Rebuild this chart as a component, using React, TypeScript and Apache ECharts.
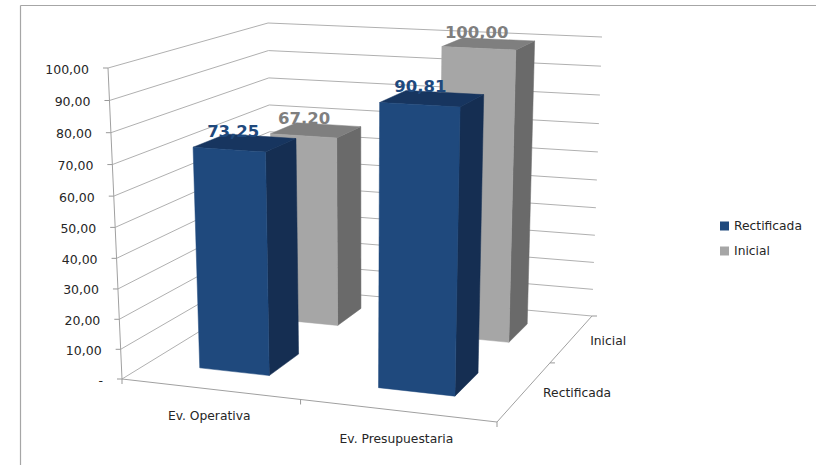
import React, { useEffect, useRef } from "react";
import * as echarts from "echarts";

const categories = ["Ev. Operativa", "Ev. Presupuestaria"];
const depthNames = ["Rectificada", "Inicial"];
const rectificada = [73.25, 90.81];
const inicial = [67.2, 100.0];
const yTicks = [0, 10, 20, 30, 40, 50, 60, 70, 80, 90, 100];
const yTickLabels = ["-", "10,00", "20,00", "30,00", "40,00", "50,00", "60,00", "70,00", "80,00", "90,00", "100,00"];

const FONT = '"DejaVu Sans", sans-serif';
const GRID_L = 0, GRID_T = 0, GRID_W = 200, GRID_H = 200;

type P = [number, number];
// projected corners of the plot box: floor then ceiling
const A: P = [122, 379], B: P = [497, 422], C: P = [592, 316], D: P = [272, 287];
const A2: P = [108, 68], B2: P = [506, 89], C2: P = [602, 37], D2: P = [268, 23];

const warpU = (f: number) => f / (f + (1 - f) * 1.1);
const warpW = (w: number) => (w * 1.26) / (w * 1.26 + 1 - w);
const warpV = (v: number) => v - 0.05 * v * (1 - v);

function project(f: number, v: number, w: number): P {
  const a = warpU(f), b = warpW(w), c = warpV(v);
  const out: P = [0, 0];
  for (const i of [0, 1] as const) {
    const floor = (1 - b) * ((1 - a) * A[i] + a * B[i]) + b * ((1 - a) * D[i] + a * C[i]);
    const top = (1 - b) * ((1 - a) * A2[i] + a * B2[i]) + b * ((1 - a) * D2[i] + a * C2[i]);
    out[i] = floor * (1 - c) + top * c;
  }
  return out;
}

const fromAxis = (pt: number[]) => ({
  f: (pt[0] - GRID_L) / GRID_W,
  v: (GRID_T + GRID_H - pt[1]) / GRID_H,
});

const fmt = (n: number) => n.toFixed(2).replace(".", ",");

function line(points: P[], stroke: string, lineWidth = 1) {
  return { type: "polyline", shape: { points }, style: { stroke, fill: "none", lineWidth }, silent: true };
}
function label(text: string, x: number, y: number, align: string, font: string, fill: string) {
  return {
    type: "text",
    silent: true,
    z2: 50,
    style: { text, x, y, align, verticalAlign: "middle", font, fill },
  };
}

function barSeries(name: string, values: number[], depthIndex: number, front: string, side: string, top: string, textColor: string) {
  const HALF = 0.1;
  return {
    type: "custom",
    name,
    itemStyle: { color: front },
    data: values.map((val, i) => [i, val]),
    renderItem: (_p: any, api: any) => {
      const { f, v } = fromAxis(api.coord([api.value(0), api.value(1)]));
      const w = (depthIndex + 0.5) / depthNames.length;
      const f0 = f - HALF, f1 = f + HALF, w0 = w - HALF, w1 = w + HALF;
      const poly = (pts: P[], fill: string) => ({
        type: "polygon",
        shape: { points: pts },
        style: { fill, stroke: fill, lineWidth: 0.5 },
        silent: true,
      });
      const tc = project(f, v, w);
      return {
        type: "group",
        children: [
          poly([project(f1, 0, w0), project(f1, 0, w1), project(f1, v, w1), project(f1, v, w0)], side),
          poly([project(f0, v, w0), project(f1, v, w0), project(f1, v, w1), project(f0, v, w1)], top),
          poly([project(f0, 0, w0), project(f1, 0, w0), project(f1, v, w0), project(f0, v, w0)], front),
          label(fmt(api.value(1)), tc[0] - 12, tc[1] - 11.5, "center", `bold 16.5px ${FONT}`, textColor),
        ],
      };
    },
  };
}

const wallSeries = {
  type: "custom",
  name: "walls",
  silent: true,
  data: yTicks.map((t) => [0, t]),
  renderItem: (_p: any, api: any) => {
    const idx = api.value(1) / 10;
    const { v } = fromAxis(api.coord([0, api.value(1)]));
    const a = project(0, v, 0), d = project(0, v, 1), c = project(1, v, 1);
    return {
      type: "group",
      children: [
        line([a, d, c], "#b0b0b0"),
        line([[a[0] - 5, a[1]], a], "#999999"),
        label(yTickLabels[idx], a[0] - 19, a[1] + 1, "right", `12.5px ${FONT}`, "#262626"),
      ],
    };
  },
};

const floorSeries = {
  type: "custom",
  name: "floor",
  silent: true,
  data: [[0, 0]],
  renderItem: () => {
    const kids: any[] = [];
    kids.push(line([project(0, 1, 0), project(0, 0, 0), project(1, 0, 0), project(1, 0, 1)], "#a0a0a0"));
    [0, 0.5, 1].forEach((f) => {
      const p = project(f, 0, 0);
      kids.push(line([p, [p[0], p[1] + 5]], "#999999"));
    });
    [0.5, 1].forEach((w) => {
      const p = project(1, 0, w);
      kids.push(line([p, [p[0] + 5, p[1]]], "#999999"));
    });
    categories.forEach((c, i) => {
      const p = project((i + 0.5) / categories.length, 0, 0);
      kids.push(label(c, p[0], p[1] + 27 + i * 2, "center", `12.3px ${FONT}`, "#262626"));
    });
    depthNames.forEach((c, i) => {
      const p = project(1, 0, (i + 0.5) / depthNames.length);
      kids.push(label(c, p[0] + 18, p[1] + 2.5, "left", `12.3px ${FONT}`, "#262626"));
    });
    return { type: "group", children: kids };
  },
};

export default function App() {
  const ref = useRef<HTMLDivElement>(null);
  useEffect(() => {
    const chart = echarts.init(ref.current!, undefined, { renderer: "svg" });
    chart.setOption({
      animation: false,
      backgroundColor: "#ffffff",
      grid: { left: GRID_L, top: GRID_T, width: GRID_W, height: GRID_H, show: false },
      xAxis: { type: "category", data: categories, show: false },
      yAxis: { type: "value", min: 0, max: 100, interval: 10, show: false },
      legend: {
        orient: "vertical",
        left: 715,
        top: 215,
        itemWidth: 9,
        itemHeight: 9,
        itemGap: 13,
        icon: "rect",
        selectedMode: false,
        data: ["Rectificada", "Inicial"],
        textStyle: { fontFamily: FONT, fontSize: 12.3, color: "#262626", padding: [0, 0, 0, 0] },
      },
      graphic: [
        { type: "line", silent: true, shape: { x1: 20.5, y1: 5.5, x2: 816, y2: 5.5 }, style: { stroke: "#a6a6a6", lineWidth: 1.2 } },
        { type: "line", silent: true, shape: { x1: 20.5, y1: 5.5, x2: 20.5, y2: 465 }, style: { stroke: "#a6a6a6", lineWidth: 1.2 } },
      ],
      series: [
        wallSeries,
        floorSeries,
        barSeries("Inicial", inicial, 1, "#a6a6a6", "#6a6a6a", "#7f7f7f", "#7f7f7f"),
        barSeries("Rectificada", rectificada, 0, "#1f497d", "#152e52", "#17355f", "#1f497d"),
      ],
    });
    return () => chart.dispose();
  }, []);
  return <div ref={ref} style={{ position: "fixed", left: 0, top: 0, width: 816, height: 465 }} />;
}
